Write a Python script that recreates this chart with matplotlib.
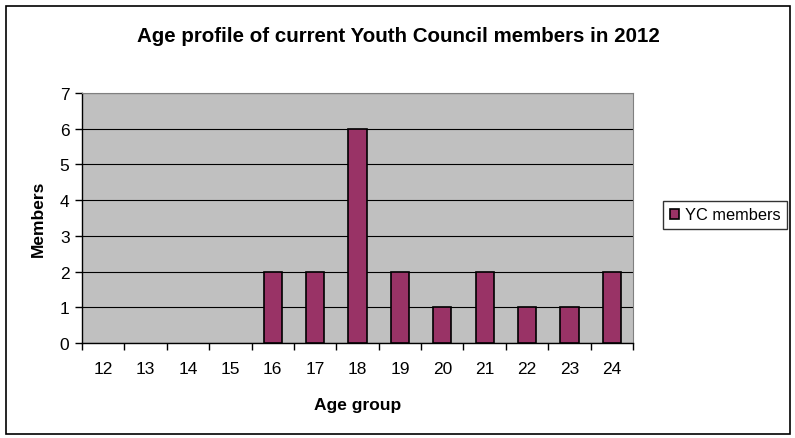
import matplotlib.pyplot as plt
import numpy as np

plt.rcParams['font.family'] = ['Liberation Sans', 'DejaVu Sans']

# data
ages = ['12', '13', '14', '15', '16', '17', '18', '19', '20', '21', '22', '23', '24']
members = [0, 0, 0, 0, 2, 2, 6, 2, 1, 2, 1, 1, 2]
series_name = 'YC members'

fig = plt.figure(figsize=(7.95, 4.39), dpi=100)

# outer chart border
fig.patches.append(plt.Rectangle((6 / 795, 4 / 439), 784 / 795, 428 / 439, transform=fig.transFigure,
                                 fill=False, edgecolor='black', linewidth=1.2))

ax = fig.add_axes([82 / 795, 1 - 344 / 439, 551 / 795, 250 / 439])
ax.set_facecolor('#C0C0C0')

x = np.arange(len(ages))
vals = np.array(members)
nz = vals > 0  # excel draws nothing for empty groups
ax.bar(x[nz], vals[nz], width=0.43, color='#993366', edgecolor='black', linewidth=1.2,
       label=series_name, zorder=3)

ax.set_xlim(-0.5, len(ages) - 0.5)
ax.set_ylim(0, 7)
ax.set_yticks(range(0, 8))
ax.yaxis.grid(True, color='black', linewidth=0.8, zorder=1)
ax.set_axisbelow(True)

# category ticks between bars, labels centred under bars
ax.set_xticks(np.arange(-0.5, len(ages), 1))
ax.set_xticklabels([])
ax.set_xticks(x, minor=True)
ax.set_xticklabels(ages, minor=True)
ax.tick_params(axis='x', which='minor', length=0, pad=13, labelsize=12.5)
ax.tick_params(axis='x', which='major', direction='out', length=5, width=1)
ax.tick_params(axis='y', direction='out', length=5, width=1, labelsize=12.5, pad=4)

for s in ['top', 'right']:
    ax.spines[s].set_color('#808080')
for s in ['left', 'bottom']:
    ax.spines[s].set_color('black')
    ax.spines[s].set_linewidth(1)

ax.set_xlabel('Age group', fontsize=12.5, fontweight='bold', labelpad=15)
ax.set_ylabel('Members', fontsize=12.5, fontweight='bold', labelpad=10)

fig.text(398 / 795, 1 - 37 / 439, 'Age profile of current Youth Council members in 2012',
         ha='center', va='center', fontsize=14.8, fontweight='bold')

leg = fig.legend(loc='center left', bbox_to_anchor=(663 / 795, 1 - 216 / 439), fontsize=11.8,
                 frameon=True, fancybox=False, edgecolor='black', handlelength=0.6,
                 handleheight=0.6, handletextpad=0.35, borderpad=0.4, borderaxespad=0)
leg.get_frame().set_linewidth(1)

fig.savefig('out.png', dpi=100)
